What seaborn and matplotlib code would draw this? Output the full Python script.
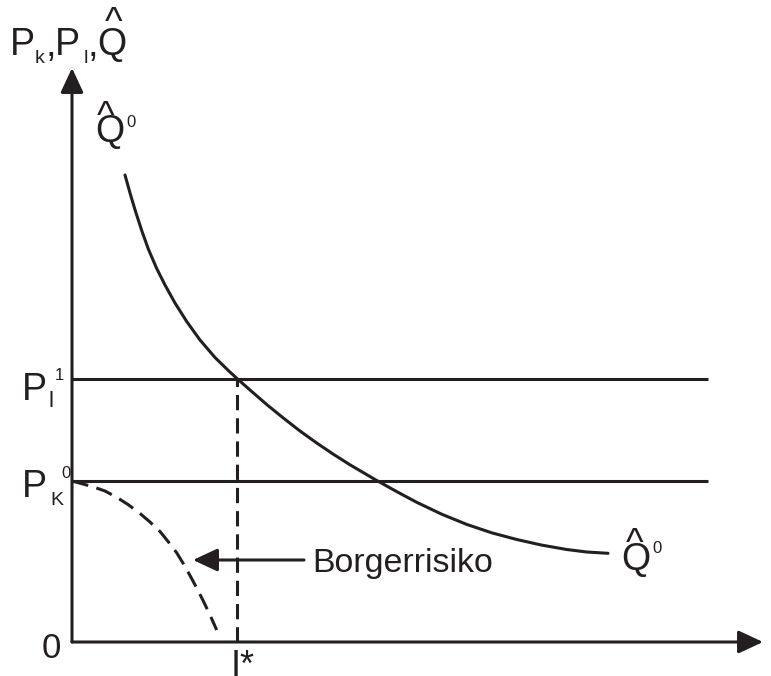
import matplotlib
matplotlib.use("Agg")
import matplotlib.pyplot as plt
import seaborn as sns
import pandas as pd

# Q-hat kurve
q_hat_x = [0.530, 0.580, 0.637, 0.697, 0.763, 0.847, 0.930, 1.030, 1.147, 1.280,
           1.430, 1.563, 1.650, 1.780, 1.947, 2.113, 2.280, 2.447, 2.613, 2.780,
           3.030, 3.247, 3.447, 3.697, 3.947, 4.197, 4.447, 4.697, 4.947, 5.147,
           5.360]
q_hat_y = [4.670, 4.490, 4.300, 4.115, 3.930, 3.735, 3.570, 3.390, 3.205, 3.020,
           2.845, 2.715, 2.635, 2.520, 2.375, 2.240, 2.110, 1.990, 1.878, 1.772,
           1.625, 1.504, 1.397, 1.278, 1.176, 1.092, 1.025, 0.969, 0.925, 0.900,
           0.887]

# Borgerrisiko (stiplet kurve)
risiko_x = [0.000, 0.200, 0.330, 0.450, 0.560, 0.680, 0.780, 0.880, 0.963, 1.047,
            1.113, 1.180, 1.247, 1.313, 1.380, 1.447]
risiko_y = [1.610, 1.555, 1.510, 1.445, 1.375, 1.285, 1.200, 1.105, 1.002, 0.892,
            0.784, 0.665, 0.540, 0.410, 0.270, 0.120]

# prisniveauer
p_l1 = 2.63
p_k0 = 1.61
i_star = 1.65
linje_slut = 6.36
pil_y = 0.82
pil_fra = 2.32
pil_til = 1.21

x_max = 6.91
y_max = 5.74

farve = "#231f20"
lw = 2.2

sns.set_style("white")
plt.rcParams["font.family"] = ["Liberation Sans", "DejaVu Sans"]

W, H = 771, 676
fig = plt.figure(figsize=(W / 100, H / 100), dpi=100)
ax = fig.add_axes([72 / W, 34 / H, 691 / W, 574 / H])
ax.set_xlim(0, x_max)
ax.set_ylim(0, y_max)
ax.axis("off")

df_q = pd.DataFrame({"x": q_hat_x, "y": q_hat_y})
df_r = pd.DataFrame({"x": risiko_x, "y": risiko_y})

sns.lineplot(data=df_q, x="x", y="y", sort=False, estimator=None,
             color=farve, lw=lw, ax=ax)
sns.lineplot(data=df_r, x="x", y="y", sort=False, estimator=None,
             color=farve, lw=lw, ax=ax)
ax.lines[-1].set_linestyle((0, (5.5, 2.8)))
for ln in ax.lines:
    ln.set_solid_joinstyle("round")

ax.hlines([p_l1, p_k0], 0, linje_slut, color=farve, lw=lw)
ax.vlines(i_star, 0, p_l1, color=farve, lw=lw, linestyles=(0, (5, 2.6)))

# akser med pile
pil = dict(arrowstyle="-|>,head_length=0.75,head_width=0.35", mutation_scale=20,
           color=farve, lw=lw, shrinkA=0, shrinkB=0)
ax.annotate("", xy=(x_max, 0), xytext=(0, 0), arrowprops=pil, annotation_clip=False)
ax.annotate("", xy=(0, y_max), xytext=(0, 0), arrowprops=pil, annotation_clip=False)
ax.annotate("", xy=(pil_til, pil_y), xytext=(pil_fra, pil_y), arrowprops=pil)


def tekst(x, y, s, size=27):
    fig.text(x / W, 1 - y / H, s, fontsize=size, color=farve,
             ha="left", va="baseline")


# titel paa y-aksen
tekst(10, 55, "P")
tekst(35, 63, "k", 14)
tekst(46, 56, ",")
tekst(55, 55, "P")
tekst(84, 63, "l", 14)
tekst(88, 56, ",")
tekst(97, 55, "Q")
tekst(105, 34, "^")

# Q-hat etiket oeverst
tekst(95, 142, "Q")
tekst(97, 128, "^")
tekst(126, 127, "0", 12)

# Q-hat etiket nederst
tekst(621, 570, "Q")
tekst(626, 555, "^")
tekst(652, 553, "0", 12)

# P_l^1
tekst(22, 400, "P")
tekst(49, 407, "l", 16)
tekst(55, 380, "1", 12)

# P_K^0
tekst(22, 497, "P")
tekst(50, 505, "K", 14)
tekst(61, 478, "0", 12)

tekst(42, 658, "0", 25)
tekst(231, 676, "I*", 26)
tekst(312, 572, "Borgerrisiko", 24.5)

fig.savefig("out.png", dpi=100)
